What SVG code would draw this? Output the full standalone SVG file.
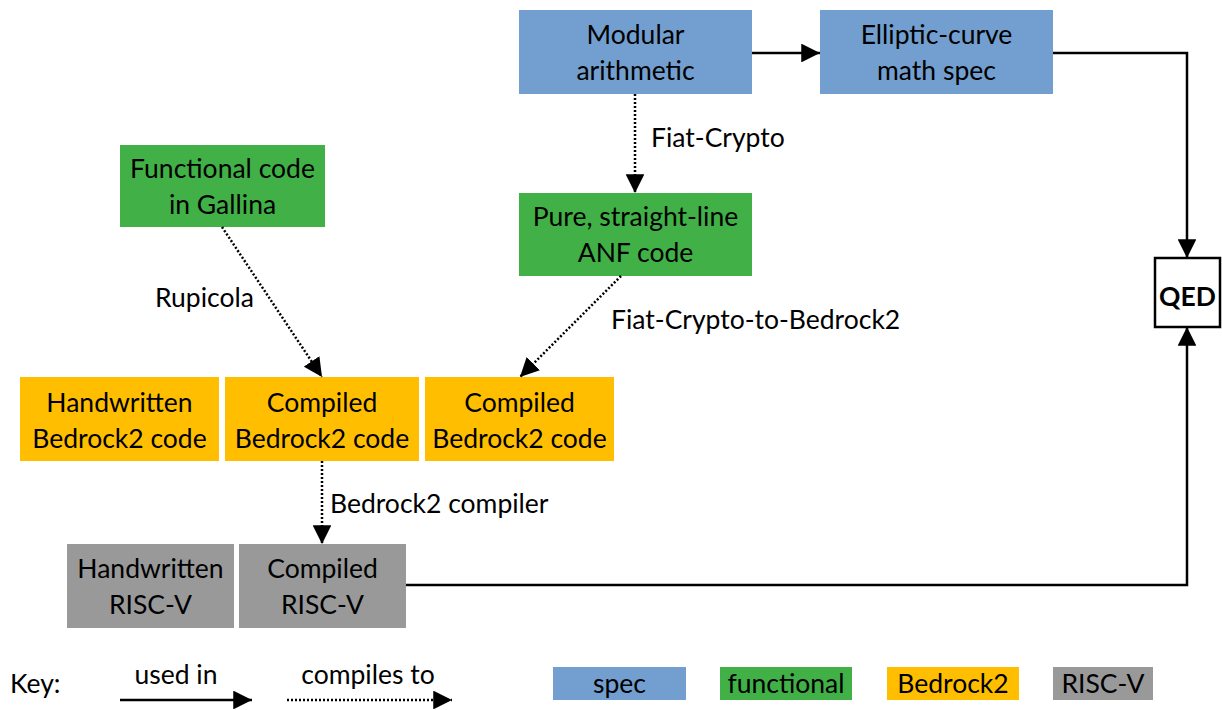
<svg xmlns="http://www.w3.org/2000/svg" width="1222" height="710" viewBox="0 0 1222 710">
<style>
text{font-family:Lato,"Noto Sans","Liberation Sans",sans-serif;font-size:26.5px;fill:#000}
.c{text-anchor:middle}
.spec{fill:#729fcf}
.fun{fill:#41b047}
.br{fill:#ffbf00}
.rv{fill:#999999}
.solid{fill:none;stroke:#000;stroke-width:2.5}
.dot{fill:none;stroke:#000;stroke-width:2.5;stroke-dasharray:2 2}
</style>
<defs>
<marker id="a" viewBox="0 0 10 10" refX="10" refY="5" markerWidth="7.5" markerHeight="7.5" orient="auto">
<path d="M0,0L10,5L0,10z" fill="#000"/>
</marker>
</defs>
<rect width="1222" height="710" fill="#fff"/>
<g id="modular"><rect class="spec" x="519" y="10" width="233" height="84"/><text class="c" x="635.5" y="44">Modular</text><text class="c" x="635.5" y="80">arithmetic</text></g>
<g id="elliptic"><rect class="spec" x="820" y="10" width="233" height="84"/><text class="c" x="936.5" y="44">Elliptic-curve</text><text class="c" x="936.5" y="80">math spec</text></g>
<g id="gallina"><rect class="fun" x="120" y="145" width="205" height="82"/><text class="c" x="222.5" y="178">Functional code</text><text class="c" x="222.5" y="214">in Gallina</text></g>
<g id="anf"><rect class="fun" x="519" y="193" width="233" height="83"/><text class="c" x="635.5" y="226">Pure, straight-line</text><text class="c" x="635.5" y="262">ANF code</text></g>
<g id="qed"><rect x="1155" y="258" width="65" height="69" fill="#fff" stroke="#000" stroke-width="2.5"/><text class="c" x="1187.5" y="306" style="font-weight:bold">QED</text></g>
<g id="hw-br"><rect class="br" x="20" y="377" width="199" height="84"/><text class="c" x="119.5" y="412">Handwritten</text><text class="c" x="119.5" y="448">Bedrock2 code</text></g>
<g id="comp-br1"><rect class="br" x="225" y="377" width="194" height="84"/><text class="c" x="322" y="412">Compiled</text><text class="c" x="322" y="448">Bedrock2 code</text></g>
<g id="comp-br2"><rect class="br" x="425" y="377" width="189" height="84"/><text class="c" x="519.5" y="412">Compiled</text><text class="c" x="519.5" y="448">Bedrock2 code</text></g>
<g id="hw-rv"><rect class="rv" x="67" y="544" width="167" height="84"/><text class="c" x="150.5" y="578">Handwritten</text><text class="c" x="150.5" y="614">RISC-V</text></g>
<g id="comp-rv"><rect class="rv" x="239" y="544" width="167" height="84"/><text class="c" x="322.5" y="578">Compiled</text><text class="c" x="322.5" y="614">RISC-V</text></g>
<g id="connectors">
<path class="solid" d="M752,53H820" marker-end="url(#a)"/>
<path class="solid" d="M1053,53H1187V258" marker-end="url(#a)"/>
<path class="solid" d="M406,585H1187V327" marker-end="url(#a)"/>
<path class="dot" d="M635,94V193" marker-end="url(#a)"/>
<path class="dot" d="M222,227L322,377" marker-end="url(#a)"/>
<path class="dot" d="M621,276L520,377" marker-end="url(#a)"/>
<path class="dot" d="M322,461V544" marker-end="url(#a)"/>
<text x="651" y="147">Fiat-Crypto</text>
<text x="155" y="307">Rupicola</text>
<text x="611" y="329">Fiat-Crypto-to-Bedrock2</text>
<text x="330" y="513">Bedrock2 compiler</text>
</g>
<g id="key">
<text x="10" y="693">Key:</text>
<text class="c" x="176" y="684">used in</text>
<path class="solid" d="M120,700H252" marker-end="url(#a)"/>
<text class="c" x="368" y="684">compiles to</text>
<path class="dot" d="M287,700H452" marker-end="url(#a)"/>
<rect class="spec" x="553" y="667" width="133" height="33"/><text class="c" x="619.5" y="693">spec</text>
<rect class="fun" x="720" y="667" width="132" height="33"/><text class="c" x="786" y="693">functional</text>
<rect class="br" x="887" y="667" width="132" height="33"/><text class="c" x="953" y="693">Bedrock2</text>
<rect class="rv" x="1053" y="667" width="100" height="33"/><text class="c" x="1103" y="693">RISC-V</text>
</g>
</svg>
